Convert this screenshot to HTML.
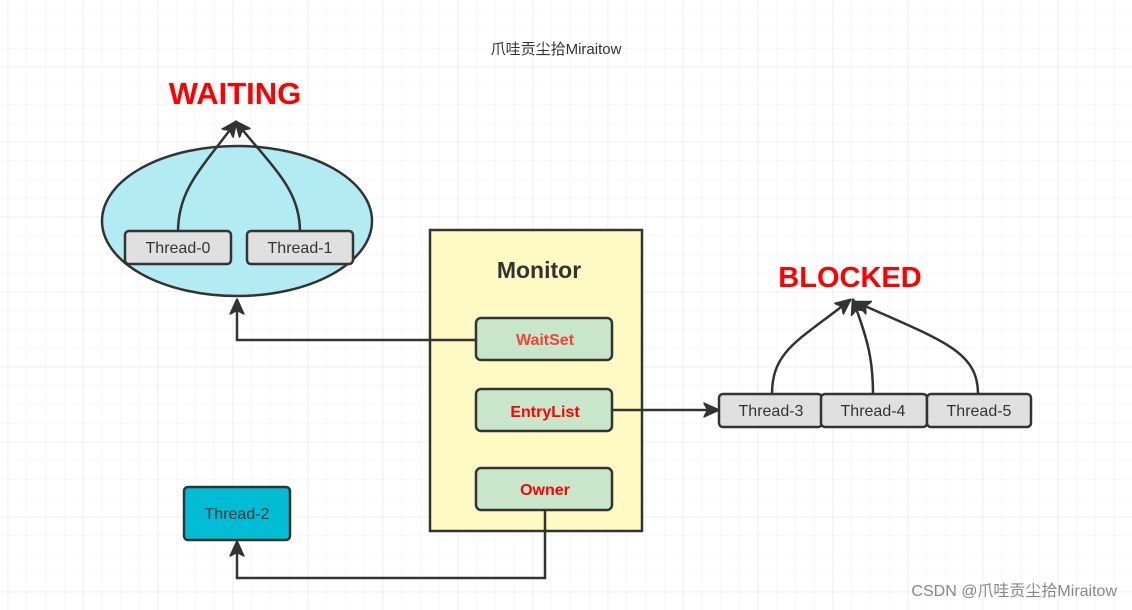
<!DOCTYPE html>
<html><head><meta charset="utf-8"><style>
html,body{margin:0;padding:0;background:#fff;}
svg{display:block;}
text{font-family:"Liberation Sans","Noto Sans CJK SC",sans-serif;}
</style></head><body>
<svg width="1132" height="610" viewBox="0 0 1132 610" xmlns="http://www.w3.org/2000/svg">
<defs>
<pattern id="minor" x="7.7" y="-8.3" width="18.75" height="18.75" patternUnits="userSpaceOnUse">
<path d="M0 0H18.75M0 0V18.75" stroke="#f0f0f0" stroke-width="1" fill="none"/>
</pattern>
<pattern id="major" x="7.7" y="-8.3" width="75" height="75" patternUnits="userSpaceOnUse">
<path d="M0 0H75M0 0V75" stroke="#e3e3e3" stroke-width="1" fill="none"/>
</pattern>
<marker id="ab" viewBox="0 0 10 10" refX="9" refY="5" markerWidth="16" markerHeight="16" orient="auto" markerUnits="userSpaceOnUse">
<path d="M0 0.5L10 5L0 9.5L2.5 5Z" fill="#333" stroke="#333" stroke-width="0.8" stroke-linejoin="round"/>
</marker>
</defs>
<rect width="1132" height="610" fill="url(#minor)"/>
<rect width="1132" height="610" fill="url(#major)"/>

<text x="556" y="54" font-size="15" fill="#333" text-anchor="middle">爪哇贡尘拾Miraitow</text>

<text x="235" y="104" font-size="31" font-weight="bold" fill="#ff0000" text-anchor="middle">WAITING</text>
<ellipse cx="237" cy="221" rx="135" ry="75" fill="#b2ebf2" stroke="#333" stroke-width="2.5"/>
<path d="M178 232 C178 190 200 170 236 122" stroke="#333" stroke-width="2.5" fill="none" marker-end="url(#ab)"/>
<path d="M300 232 C300 190 275 170 236 122" stroke="#333" stroke-width="2.5" fill="none" marker-end="url(#ab)"/>
<rect x="125" y="231" width="106" height="33" rx="4" fill="#e0e0e0" stroke="#333" stroke-width="2.5"/>
<text x="178" y="253" font-size="16" fill="#333" text-anchor="middle">Thread-0</text>
<rect x="247" y="231" width="106" height="33" rx="4" fill="#e0e0e0" stroke="#333" stroke-width="2.5"/>
<text x="300" y="253" font-size="16" fill="#333" text-anchor="middle">Thread-1</text>

<rect x="430" y="230" width="212" height="301" fill="#fff9c4" stroke="#333" stroke-width="2.5"/>
<text x="539" y="278" font-size="23" font-weight="bold" fill="#333" text-anchor="middle">Monitor</text>

<path d="M476 340 H237 V300" stroke="#333" stroke-width="2.5" fill="none" marker-end="url(#ab)"/>
<rect x="476" y="318" width="136" height="42" rx="5" fill="#c8e6c9" stroke="#333" stroke-width="2.5"/>
<text x="545" y="345" font-size="16" font-weight="bold" fill="#f44336" text-anchor="middle">WaitSet</text>

<path d="M612 410 H718" stroke="#333" stroke-width="2.5" fill="none" marker-end="url(#ab)"/>
<rect x="476" y="389" width="136" height="42" rx="5" fill="#c8e6c9" stroke="#333" stroke-width="2.5"/>
<text x="545" y="417" font-size="16" font-weight="bold" fill="#ff0000" text-anchor="middle">EntryList</text>

<path d="M545 510 V578 H237 V542" stroke="#333" stroke-width="2.5" fill="none" marker-end="url(#ab)"/>
<rect x="476" y="468" width="136" height="42" rx="5" fill="#c8e6c9" stroke="#333" stroke-width="2.5"/>
<text x="545" y="495" font-size="16" font-weight="bold" fill="#ff0000" text-anchor="middle">Owner</text>

<rect x="184" y="487" width="106" height="53" rx="4" fill="#00bcd4" stroke="#333" stroke-width="2.5"/>
<text x="237" y="519" font-size="16" fill="#333" text-anchor="middle">Thread-2</text>

<text x="850" y="287" font-size="29" font-weight="bold" fill="#ff0000" text-anchor="middle">BLOCKED</text>
<path d="M772 394 C772 350 800 340 850 300" stroke="#333" stroke-width="2.5" fill="none" marker-end="url(#ab)"/>
<path d="M873 394 C873 360 868 340 853 300" stroke="#333" stroke-width="2.5" fill="none" marker-end="url(#ab)"/>
<path d="M978 394 C978 350 940 340 856 302" stroke="#333" stroke-width="2.5" fill="none" marker-end="url(#ab)"/>
<rect x="719" y="394" width="103" height="33" rx="4" fill="#e0e0e0" stroke="#333" stroke-width="2.5"/>
<text x="771" y="416" font-size="16" fill="#333" text-anchor="middle">Thread-3</text>
<rect x="821" y="394" width="106" height="33" rx="4" fill="#e0e0e0" stroke="#333" stroke-width="2.5"/>
<text x="873" y="416" font-size="16" fill="#333" text-anchor="middle">Thread-4</text>
<rect x="927" y="394" width="104" height="33" rx="4" fill="#e0e0e0" stroke="#333" stroke-width="2.5"/>
<text x="979" y="416" font-size="16" fill="#333" text-anchor="middle">Thread-5</text>

<text x="1117" y="596" font-size="16" fill="#888" text-anchor="end">CSDN @爪哇贡尘拾Miraitow</text>
</svg>
</body></html>
